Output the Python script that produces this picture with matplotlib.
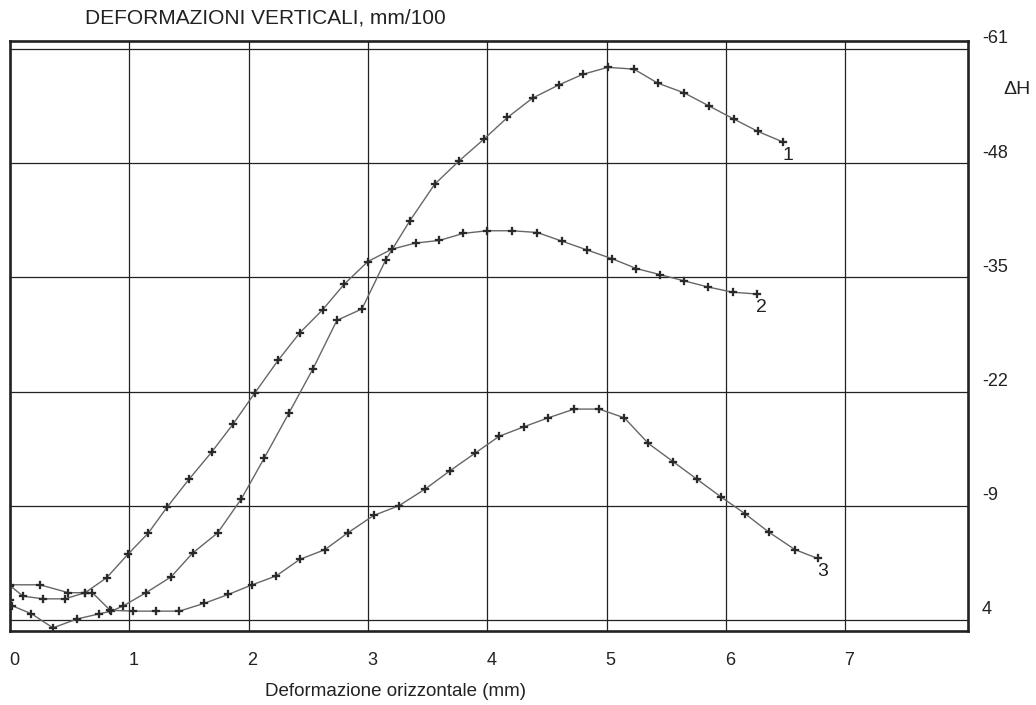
import matplotlib
matplotlib.use("Agg")
import matplotlib.pyplot as plt
from matplotlib.transforms import ScaledTranslation

plt.rcParams['font.family'] = ['Liberation Sans', 'DejaVu Sans']
plt.rcParams['axes.unicode_minus'] = False

# curve 1 (reaches the peak near x=5)
x1 = [0.0, 0.02, 0.18, 0.36, 0.56, 0.75, 0.85, 0.95, 1.14, 1.35, 1.53, 1.74,
      1.94, 2.13, 2.34, 2.54, 2.74, 2.95, 3.15, 3.35, 3.56, 3.76, 3.97, 4.17,
      4.38, 4.60, 4.80, 5.01, 5.23, 5.43, 5.65, 5.86, 6.07, 6.27, 6.48]
y1 = [1.7, 2.4, 3.3, 4.9, 3.9, 3.3, 3.0, 2.4, 0.9, -0.9, -3.6, -5.9,
      -9.8, -14.4, -19.6, -24.6, -30.1, -31.4, -37.0, -41.4, -45.6, -48.2, -50.7, -53.2,
      -55.4, -56.9, -58.1, -58.9, -58.7, -57.1, -56.0, -54.5, -53.0, -51.6, -50.4]

# curve 2 (plateau around -40)
x2 = [0.0, 0.11, 0.28, 0.46, 0.63, 0.81, 0.99, 1.16, 1.32, 1.50, 1.69, 1.87,
      2.05, 2.25, 2.43, 2.62, 2.80, 3.00, 3.20, 3.40, 3.60, 3.80, 4.00, 4.21,
      4.42, 4.63, 4.84, 5.05, 5.25, 5.45, 5.65, 5.85, 6.06, 6.26]
y2 = [0.1, 1.3, 1.6, 1.6, 0.9, -0.8, -3.5, -5.9, -8.9, -12.0, -15.1, -18.3,
      -21.8, -25.6, -28.7, -31.3, -34.2, -36.8, -38.2, -38.9, -39.2, -40.0, -40.3, -40.3,
      -40.1, -39.1, -38.1, -37.1, -36.0, -35.3, -34.6, -33.9, -33.3, -33.1]

# curve 3 (lowest, peak about -20)
x3 = [0.0, 0.25, 0.49, 0.63, 0.69, 0.84, 1.03, 1.22, 1.42, 1.63, 1.83, 2.03,
      2.23, 2.43, 2.64, 2.83, 3.05, 3.26, 3.48, 3.69, 3.90, 4.10, 4.31, 4.51,
      4.73, 4.94, 5.15, 5.35, 5.56, 5.76, 5.96, 6.16, 6.36, 6.58, 6.77]
y3 = [0.0, 0.0, 0.9, 0.9, 0.9, 2.9, 3.0, 3.0, 3.0, 2.1, 1.1, 0.0,
      -1.0, -2.9, -4.0, -5.9, -7.9, -9.0, -10.9, -13.0, -15.0, -16.9, -18.0, -19.0,
      -20.0, -20.0, -19.0, -16.1, -14.0, -12.0, -10.0, -8.1, -6.0, -4.0, -3.0]

curve_labels = ['1', '2', '3']
x_ticks = [0, 1, 2, 3, 4, 5, 6, 7]
y_ticks = [-61, -48, -35, -22, -9, 4]

W, H = 1036, 705
fig = plt.figure(figsize=(W / 100, H / 100), dpi=100)
ax = fig.add_axes([10 / W, 1 - 631 / H, 958 / W, 590 / H])

for xs, ys, lab in zip([x1, x2, x3], [y1, y2, y3], curve_labels):
    ax.plot(xs, ys, color='#666666', lw=1.0, marker='P', ms=6.3,
            mfc='#2a2a2a', mec='#2a2a2a', mew=0.2, zorder=3)
    ax.annotate(lab, (xs[-1], ys[-1]), xytext=(3.6, -9.4), textcoords='offset points',
                ha='center', va='center', fontsize=14, color='#222222')

ax.set_xlim(0, 8.03)
ax.set_ylim(5.26, -61.9)
ax.set_xticks(x_ticks)
ax.set_yticks(y_ticks)
ax.grid(True, color='#222222', lw=0.9)
ax.set_axisbelow(True)
ax.yaxis.tick_right()
ax.tick_params(length=0, labelsize=13, colors='#222222')
ax.tick_params(axis='x', pad=15)
ax.tick_params(axis='y', pad=10)
for s in ax.spines.values():
    s.set_linewidth(1.9)
    s.set_color('#222222')

# labels sit a little off the grid lines in the original
for lbl in ax.get_yticklabels():
    lbl.set_horizontalalignment('left')
    lbl.set_transform(lbl.get_transform() + ScaledTranslation(0, 0.12, fig.dpi_scale_trans))
for lbl in ax.get_xticklabels():
    lbl.set_transform(lbl.get_transform() + ScaledTranslation(0.04, 0, fig.dpi_scale_trans))

fig.text(85 / W, 1 - 18 / H, 'DEFORMAZIONI VERTICALI, mm/100', ha='left', va='center',
         fontsize=15, color='#222222')
fig.text(265 / W, 1 - 692 / H, 'Deformazione orizzontale (mm)', ha='left', va='center',
         fontsize=13.5, color='#222222')
fig.text(1003 / W, 1 - 90 / H, '\u0394H', ha='left', va='center', fontsize=14, color='#222222')

fig.savefig('out.png', dpi=100)
